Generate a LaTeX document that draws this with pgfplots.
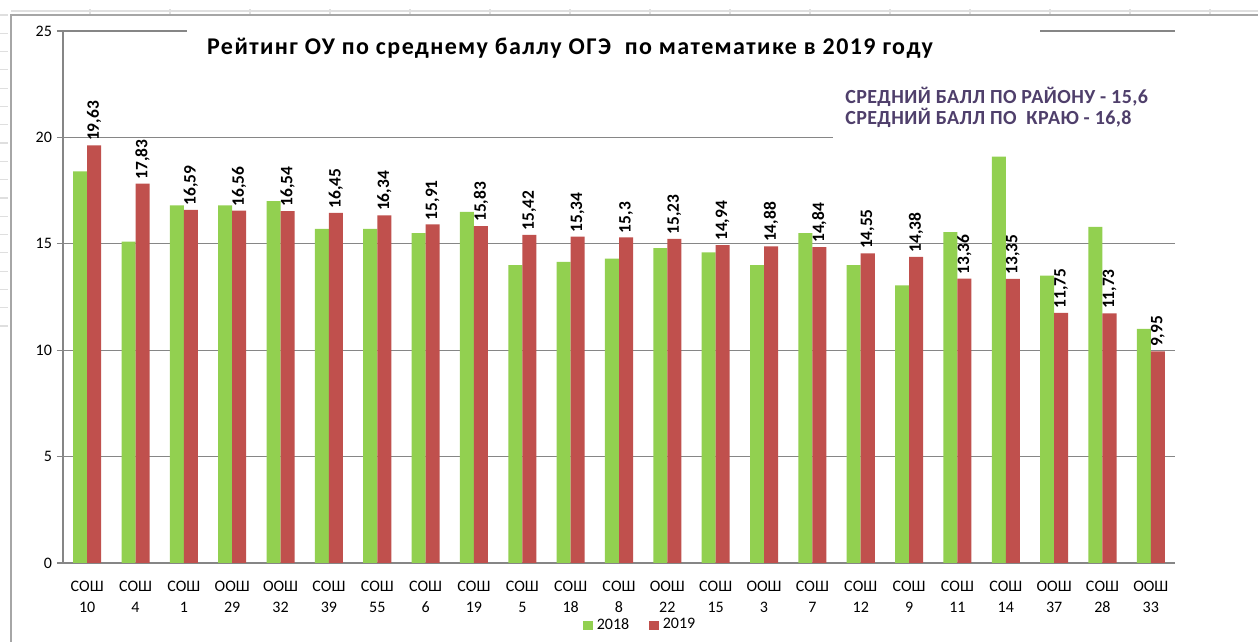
\documentclass[border=0pt]{standalone}
\usepackage{fontspec}
\setmainfont{Carlito}
\usepackage{pgfplots}
\pgfplotsset{compat=1.18}
\definecolor{g18}{HTML}{92D050}
\definecolor{r19}{HTML}{C0504D}
\definecolor{gridc}{HTML}{868686}
\definecolor{txt}{HTML}{4F3F6B}
\begin{document}
\begin{tikzpicture}
\useasboundingbox (0,0) rectangle (629pt,321pt);
\fill[white] (0,0) rectangle (629pt,321pt);
\draw[gray!25, line width=0.6pt] (5.5pt,315.5pt) -- (629pt,315.5pt);
\foreach \x in {0,...,14} {\draw[gray!25, line width=0.6pt] ({45pt+\x*40pt},313.5pt) -- ({45pt+\x*40pt},316.5pt);}
\foreach \y in {0,...,17} {\draw[gray!25, line width=0.6pt] (0pt,{313.5pt-\y*9.15pt}) -- (4pt,{313.5pt-\y*9.15pt});}
\draw[gray!70, line width=0.7pt] (5.5pt,0) -- (5.5pt,313.5pt) -- (629pt,313.5pt);
\begin{axis}[
  at={(31.5pt,39.5pt)}, anchor=south west, scale only axis,
  width=556pt, height=266pt,
  xmin=-0.5, xmax=22.5, ymin=0, ymax=25,
  axis lines=left, axis line style={-, draw=gridc, line width=0.6pt},
  ymajorgrids, grid style={draw=gridc, line width=0.6pt},
  ytick={0,5,...,25},
  tick align=outside, major tick length=3pt,
  tick style={draw=gridc, line width=0.6pt},
  xtick={0,...,22},
  xtick style={draw=none},
  xticklabels={{СОШ\\10},{СОШ\\4},{СОШ\\1},{ООШ\\29},{ООШ\\32},{СОШ\\39},{СОШ\\55},{СОШ\\6},{СОШ\\19},{СОШ\\5},{СОШ\\18},{СОШ\\8},{ООШ\\22},{СОШ\\15},{ООШ\\3},{СОШ\\7},{СОШ\\12},{СОШ\\9},{СОШ\\11},{СОШ\\14},{ООШ\\37},{СОШ\\28},{ООШ\\33}},
  extra x ticks={-0.5,0.5,...,22.5},
  extra x tick labels={},
  extra x tick style={grid=none, tick style={draw=gridc, line width=0.6pt}},
  xticklabel style={align=center, font=\fontsize{8}{10.5}\selectfont, yshift=-2.5pt},
  yticklabel style={font=\fontsize{8}{9}\selectfont, xshift=1pt},
  /pgf/number format/use comma,
  /pgf/number format/assume math mode=true,
  ybar=0pt, bar width=0.29,
  legend image code/.code={\fill[#1] (0pt,-2.2pt) rectangle (4.8pt,2.2pt);},
  legend style={at={(0.52,-0.117)}, anchor=center, draw=none, fill=none,
    legend columns=2, font=\fontsize{8}{9}\selectfont, inner sep=0pt,
    /tikz/every even column/.append style={column sep=8pt}},
]
\addplot[fill=g18, draw=none] coordinates {
(0,18.4) (1,15.1) (2,16.8) (3,16.8) (4,17.0) (5,15.7) (6,15.7) (7,15.5) (8,16.5) (9,14.0) (10,14.15) (11,14.3)
(12,14.8) (13,14.6) (14,14.0) (15,15.5) (16,14.0) (17,13.05) (18,15.55) (19,19.1) (20,13.5) (21,15.8) (22,11.0)};
\addplot[fill=r19, draw=none, nodes near coords,
  every node near coord/.append style={rotate=90, anchor=west, font=\bfseries\fontsize{8.7}{10}\selectfont, inner sep=2pt, text=black}] coordinates {
(0,19.63) (1,17.83) (2,16.59) (3,16.56) (4,16.54) (5,16.45) (6,16.34) (7,15.91) (8,15.83) (9,15.42) (10,15.34) (11,15.3)
(12,15.23) (13,14.94) (14,14.88) (15,14.84) (16,14.55) (17,14.38) (18,13.36) (19,13.35) (20,11.75) (21,11.73) (22,9.95)};
\legend{2018,2019}
\end{axis}
\fill[white] (93.5pt,300pt) rectangle (520pt,310pt);
\node[font=\bfseries\fontsize{12}{14}\selectfont\addfontfeature{LetterSpace=6}] at (285pt,297pt) {Рейтинг ОУ по среднему баллу ОГЭ\ \ по математике в 2019 году};
\fill[white] (416.5pt,249pt) rectangle (592pt,256pt);
\node[anchor=west, font=\bfseries\fontsize{10}{10.5}\selectfont\addfontfeature{LetterSpace=2}, text=txt, align=left, inner sep=0pt] at (422.5pt,267.25pt) {СРЕДНИЙ БАЛЛ ПО РАЙОНУ - 15,6\\СРЕДНИЙ БАЛЛ ПО\ \ КРАЮ - 16,8};
\end{tikzpicture}
\end{document}
